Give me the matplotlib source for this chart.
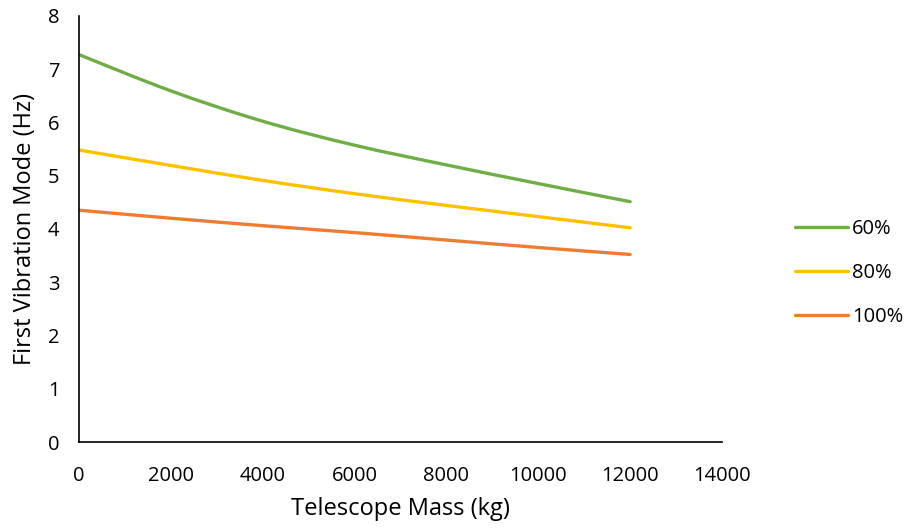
import numpy as np
import matplotlib
matplotlib.use("Agg")
import matplotlib.pyplot as plt
from matplotlib.path import Path
from matplotlib.patches import PathPatch
from matplotlib.lines import Line2D

plt.rcParams['font.family'] = ['Open Sans', 'DejaVu Sans']

mass_kg = [0, 2000, 4000, 6000, 8000, 10000, 12000]
freq_60 = [7.27, 6.59, 6.02, 5.57, 5.20, 4.85, 4.51]
freq_80 = [5.48, 5.19, 4.91, 4.66, 4.44, 4.23, 4.02]
freq_100 = [4.35, 4.20, 4.06, 3.93, 3.79, 3.65, 3.52]

series = [("60%", freq_60, "#70AD47"),
          ("80%", freq_80, "#FFC000"),
          ("100%", freq_100, "#ED7D31")]

x_ticks = [0, 2000, 4000, 6000, 8000, 10000, 12000, 14000]
y_ticks = [0, 1, 2, 3, 4, 5, 6, 7, 8]


def smooth_path(xs, ys, tension=1 / 6):
    """Cubic Bezier path through the points (spreadsheet-style smoothed line)."""
    xs = np.asarray(xs, float)
    ys = np.asarray(ys, float)
    pts = np.column_stack([xs, ys])
    n = len(pts)
    verts = [pts[0]]
    codes = [Path.MOVETO]
    for i in range(n - 1):
        p0 = pts[i - 1] if i > 0 else pts[i]
        p1 = pts[i]
        p2 = pts[i + 1]
        p3 = pts[i + 2] if i + 2 < n else pts[i + 1]
        c1 = p1 + (p2 - p0) * tension
        c2 = p2 - (p3 - p1) * tension
        verts += [c1, c2, p2]
        codes += [Path.CURVE4] * 3
    return Path(verts, codes)


fig = plt.figure(figsize=(9.11, 5.31), dpi=100)
ax = fig.add_axes([0.0867, 0.1676, 0.7058, 0.8028])

handles = []
for label, vals, color in series:
    patch = PathPatch(smooth_path(mass_kg, vals), facecolor="none",
                      edgecolor=color, linewidth=2.4, capstyle="round")
    ax.add_patch(patch)
    handles.append(Line2D([], [], color=color, linewidth=2.4,
                          solid_capstyle="round", label=label))

ax.set_xlim(0, 14000)
ax.set_ylim(0, 8)
ax.set_xticks(x_ticks)
ax.set_yticks(y_ticks)
ax.tick_params(length=0, labelsize=14.5)
ax.tick_params(axis="y", pad=14)
ax.tick_params(axis="x", pad=17)
for side in ("top", "right"):
    ax.spines[side].set_visible(False)
for side in ("left", "bottom"):
    ax.spines[side].set_color("#000000")
    ax.spines[side].set_linewidth(1.2)

ax.set_xlabel("Telescope Mass (kg)", fontsize=17, labelpad=8)
ax.set_ylabel("First Vibration Mode (Hz)", fontsize=17, labelpad=8)

fig.legend(handles=handles, loc="center left",
           bbox_to_anchor=(0.8727, 0.486), frameon=False,
           borderpad=0, borderaxespad=0,
           fontsize=14.5, handlelength=2.64, handletextpad=0.2,
           labelspacing=1.2)

fig.savefig("out.png", dpi=100, facecolor="white")
